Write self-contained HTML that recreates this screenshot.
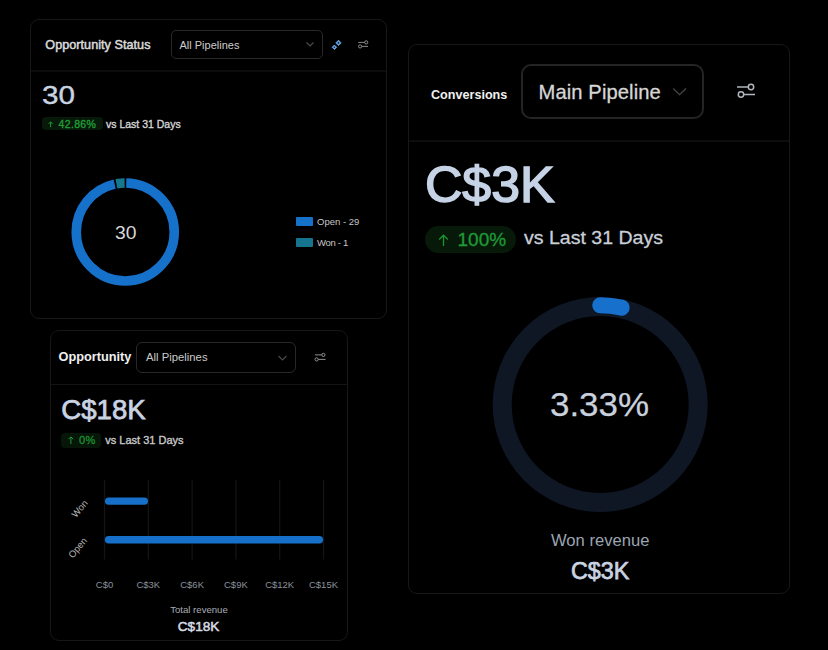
<!DOCTYPE html>
<html><head><meta charset="utf-8">
<style>
*{margin:0;padding:0;box-sizing:border-box;}
html,body{width:828px;height:650px;background:#000;overflow:hidden;}
body{position:relative;font-family:"Liberation Sans",sans-serif;color:#e6e6e6;}
.card{position:absolute;border:1px solid #171717;border-radius:9px;background:#000;}
.hl{position:absolute;height:1px;background:#141414;}
.t{position:absolute;white-space:nowrap;line-height:1;}
.dd{position:absolute;border:1px solid #282828;border-radius:5px;}
.badge{position:absolute;background:#071a09;border-radius:4px;}
svg{position:absolute;overflow:visible;}
</style></head>
<body>
<!-- Card 1: Opportunity Status -->
<div class="card" style="left:30px;top:19px;width:357px;height:300px;"></div>
<div class="hl" style="left:31px;top:70px;width:355px;height:2px;background:#0c0c0c;"></div>
<div class="t" id="t1" style="left:45.3px;top:38.6px;font-size:12.6px;letter-spacing:0.05px;color:#dadada;-webkit-text-stroke:0.5px #dadada;">Opportunity Status</div>
<div class="dd" style="left:171px;top:29.5px;width:151.5px;height:29.5px;"></div>
<div class="t" id="t2" style="left:179.5px;top:39.5px;font-size:11px;color:#cccccc;">All Pipelines</div>
<svg style="left:305px;top:41px" width="10" height="7" viewBox="0 0 10 7"><path d="M1.5 1.5 L5 5 L8.5 1.5" fill="none" stroke="#4a4a4a" stroke-width="1.2"/></svg>
<svg style="left:0;top:0" width="828" height="650">
 <g fill="#6aa6e8" stroke="#6aa6e8" stroke-width="0.8" stroke-linejoin="round">
  <path d="M338.5 40.2L341.2 42.9L338.5 45.6L335.8 42.9Z"/>
  <path d="M334.4 45L336.7 47.3L334.4 49.6L332.1 47.3Z"/>
 </g>
 <g fill="#0b1a2e"><circle cx="338.5" cy="42.9" r="0.9"/><circle cx="334.4" cy="47.3" r="0.7"/><circle cx="336.4" cy="45.2" r="0.6"/></g>
</svg>
<svg style="left:357px;top:39px" width="12" height="10" viewBox="0 0 12 10">
 <g fill="none" stroke="#9a9a9a" stroke-width="0.9">
  <path d="M1.2 3.4H7.5"/><circle cx="9.2" cy="3.4" r="1.6"/>
  <path d="M4.8 7.4H11"/><circle cx="3.1" cy="7.4" r="1.6"/>
 </g>
</svg>
<div class="t" id="t3" style="left:41.5px;top:81.8px;font-size:26px;color:#c9d3e1;-webkit-text-stroke:0.4px #c9d3e1;transform-origin:0 0;transform:scaleX(1.14);">30</div>
<div class="badge" style="left:42px;top:117.3px;width:60.5px;height:12.5px;"></div>
<svg style="left:48px;top:120.5px" width="6" height="7" viewBox="0 0 6 7"><path d="M2.6 6.2V0.9M0.6 2.9L2.6 0.9L4.6 2.9" fill="none" stroke="#1f9a35" stroke-width="1"/></svg>
<div class="t" id="t4" style="left:58.5px;top:118.5px;font-size:10.5px;letter-spacing:0.35px;color:#22a038;-webkit-text-stroke:0.3px #22a038;">42.86%</div>
<div class="t" id="t5" style="left:106px;top:118.5px;font-size:10.5px;color:#d4d4d4;-webkit-text-stroke:0.35px #d4d4d4;">vs Last 31 Days</div>
<svg style="left:0;top:0" width="828" height="650">
 <circle cx="125.25" cy="232" r="49" fill="none" stroke="#1671ca" stroke-width="9.6" stroke-dasharray="295.7 12.2" stroke-dashoffset="-1" transform="rotate(-90 125.25 232)"/>
 <circle cx="125.25" cy="232" r="49" fill="none" stroke="#14788f" stroke-width="9.6" stroke-dasharray="8.25 299.65" stroke-dashoffset="-298.5" transform="rotate(-90 125.25 232)"/>
</svg>
<div class="t" id="t6" style="left:114.6px;top:224px;font-size:18px;color:#d8d8d8;transform-origin:0 0;transform:scaleX(1.07);">30</div>
<div style="position:absolute;left:296px;top:217px;width:16.5px;height:9px;background:#1672c9;border-radius:1px;"></div>
<div style="position:absolute;left:296px;top:238px;width:16.5px;height:9px;background:#15758f;border-radius:1px;"></div>
<div class="t" id="t7" style="left:317px;top:217px;font-size:9.5px;color:#c6c6c6;">Open - 29</div>
<div class="t" id="t8" style="left:317px;top:238px;font-size:9.5px;color:#c6c6c6;letter-spacing:-0.3px;">Won - 1</div>

<!-- Card 2: Conversions -->
<div class="card" style="left:408px;top:44px;width:382px;height:550px;border-radius:9px;"></div>
<div class="hl" style="left:409px;top:140px;width:380px;height:2px;background:#0d0d0d;"></div>
<div class="t" id="c1" style="left:431px;top:88.6px;font-size:12.6px;font-weight:bold;color:#f0f0f0;">Conversions</div>
<div class="dd" style="left:521px;top:64px;width:182.5px;height:55px;border-radius:10px;border:2px solid #242424;"></div>
<div class="t" id="c2" style="left:538.6px;top:81.7px;font-size:20.2px;letter-spacing:0.08px;color:#d6d6d6;-webkit-text-stroke:0.3px #d6d6d6;">Main Pipeline</div>
<svg style="left:672px;top:87px" width="16" height="10" viewBox="0 0 16 10"><path d="M1.2 1.5 L7.6 7.6 L14 1.5" fill="none" stroke="#464646" stroke-width="1.3"/></svg>
<svg style="left:735px;top:82px" width="22" height="18" viewBox="0 0 22 18">
 <g fill="none" stroke="#b0b6bd" stroke-width="1.5">
  <path d="M2 5H13"/><circle cx="16" cy="5" r="2.7"/>
  <path d="M9 12.5H20"/><circle cx="6" cy="12.5" r="2.7"/>
 </g>
</svg>
<div class="t" id="c3" style="left:425.4px;top:159.7px;font-size:50px;color:#c6d3e6;-webkit-text-stroke:1.5px #c6d3e6;transform-origin:0 0;transform:scaleX(1.035);">C$3K</div>
<div class="badge" style="left:425px;top:226px;width:91px;height:27px;border-radius:13.5px;background:#071a0a;"></div>
<svg style="left:438px;top:233.5px" width="11" height="13" viewBox="0 0 11 13"><path d="M5.5 12V1.2M1.2 5.5L5.5 1.2L9.8 5.5" fill="none" stroke="#1c9232" stroke-width="1.3"/></svg>
<div class="t" id="c4" style="left:457.5px;top:230px;font-size:19px;color:#1f9a36;-webkit-text-stroke:0.3px #1f9a36;">100%</div>
<div class="t" id="c5" style="left:524px;top:228.8px;font-size:18px;color:#c9cfd8;-webkit-text-stroke:0.3px #c9cfd8;transform-origin:0 0;transform:scaleX(1.085);">vs Last 31 Days</div>
<svg style="left:0;top:0" width="828" height="650">
 <circle cx="600.2" cy="404.5" r="98" fill="none" stroke="#0f1624" stroke-width="19"/>
 <path d="M600.2 305.3 A99.2 99.2 0 0 1 621.67 307.65" fill="none" stroke="#1670cc" stroke-width="16" stroke-linecap="round"/>
</svg>
<div class="t" id="c6" style="left:550.4px;top:388.3px;font-size:33.6px;color:#c9d1dd;-webkit-text-stroke:0.25px #c9d1dd;transform-origin:0 0;transform:scaleX(1.04);">3.33%</div>
<div class="t" id="c7" style="left:551px;top:533.3px;font-size:16.6px;color:#9ba4b1;">Won revenue</div>
<div class="t" id="c8" style="left:571.4px;top:559px;font-size:24px;color:#c9d3e2;-webkit-text-stroke:0.75px #c9d3e2;transform-origin:0 0;transform:scaleX(0.97);">C$3K</div>

<!-- Card 3: Opportunity -->
<div class="card" style="left:50px;top:330px;width:298px;height:311px;"></div>
<div class="hl" style="left:51px;top:384px;width:296px;"></div>
<div class="t" id="o1" style="left:58.5px;top:350.7px;font-size:12.75px;font-weight:bold;color:#f0f0f0;">Opportunity</div>
<div class="dd" style="left:136px;top:342px;width:160px;height:31px;border-radius:6px;"></div>
<div class="t" id="o2" style="left:146px;top:352.3px;font-size:11.3px;color:#cacaca;">All Pipelines</div>
<svg style="left:277px;top:353.5px" width="11" height="8" viewBox="0 0 11 8"><path d="M1.5 2 L5.5 6 L9.5 2" fill="none" stroke="#4a4a4a" stroke-width="1.2"/></svg>
<svg style="left:313px;top:351px" width="14" height="12" viewBox="0 0 14 12">
 <g fill="none" stroke="#a0a0a0" stroke-width="0.9">
  <path d="M2 3.9H8.7"/><circle cx="10.4" cy="3.9" r="1.6"/>
  <path d="M5.3 8.4H12.5"/><circle cx="3.6" cy="8.4" r="1.6"/>
 </g>
</svg>
<div class="t" id="o3" style="left:61.3px;top:396px;font-size:27.6px;color:#c9d3e2;-webkit-text-stroke:0.75px #c9d3e2;">C$18K</div>
<div class="badge" style="left:61.3px;top:432.5px;width:40px;height:15px;background:#061608;"></div>
<svg style="left:68px;top:436px" width="6" height="9" viewBox="0 0 6 9"><path d="M2.9 8V0.9M0.6 3.2L2.9 0.9L5.2 3.2" fill="none" stroke="#1f9a35" stroke-width="1"/></svg>
<div class="t" id="o4" style="left:79px;top:435.2px;font-size:11px;letter-spacing:0.4px;color:#1e9232;-webkit-text-stroke:0.3px #1e9232;">0%</div>
<div class="t" id="o5" style="left:105.3px;top:434.7px;font-size:11px;color:#c8c8c8;-webkit-text-stroke:0.35px #c8c8c8;">vs Last 31 Days</div>
<svg style="left:0;top:0" width="828" height="650">
 <g stroke="#141414" stroke-width="1.2">
  <path d="M104.5 480V559.5M148.3 480V559.5M192.1 480V559.5M235.9 480V559.5M279.7 480V559.5M323.5 480V559.5"/>
 </g>
 <path d="M108.6 501.2H144.4" stroke="#1670c9" stroke-width="7.2" stroke-linecap="round"/>
 <path d="M108.6 539.8H319.4" stroke="#1670c9" stroke-width="7.4" stroke-linecap="round"/>
</svg>
<div class="t" id="o6" style="left:69.5px;top:503.6px;font-size:9.5px;color:#b4b4b4;transform-origin:50% 50%;transform:rotate(-50deg);">Won</div>
<div class="t" id="o7" style="left:66.3px;top:543.2px;font-size:9.5px;color:#b4b4b4;transform-origin:50% 50%;transform:rotate(-50deg);">Open</div>
<div class="t" style="left:84.5px;top:580px;font-size:9.5px;color:#8a919b;width:40px;text-align:center;">C$0</div>
<div class="t" style="left:128.3px;top:580px;font-size:9.5px;color:#8a919b;width:40px;text-align:center;">C$3K</div>
<div class="t" style="left:172.1px;top:580px;font-size:9.5px;color:#8a919b;width:40px;text-align:center;">C$6K</div>
<div class="t" style="left:215.9px;top:580px;font-size:9.5px;color:#8a919b;width:40px;text-align:center;">C$9K</div>
<div class="t" style="left:259.7px;top:580px;font-size:9.5px;color:#8a919b;width:40px;text-align:center;">C$12K</div>
<div class="t" style="left:303.5px;top:580px;font-size:9.5px;color:#8a919b;width:40px;text-align:center;">C$15K</div>
<div class="t" id="o8" style="left:149px;top:605px;width:100px;text-align:center;font-size:9.6px;color:#a8adb5;">Total revenue</div>
<div class="t" id="o9" style="left:148.6px;top:620.3px;width:100px;text-align:center;font-size:13.6px;color:#d8dde5;-webkit-text-stroke:0.5px #d8dde5;">C$18K</div>
</body></html>
